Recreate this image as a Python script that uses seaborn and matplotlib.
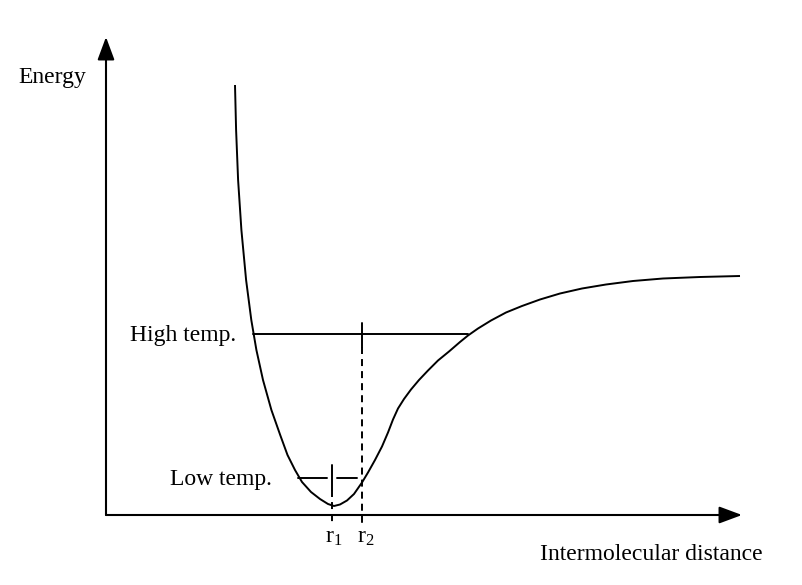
import matplotlib
matplotlib.use("Agg")
import matplotlib.pyplot as plt
import seaborn as sns
import pandas as pd

# Potential-energy curve (x: distance, y: energy, arbitrary units)
curve_x = [129, 130.1, 132.1, 135.4, 140.1, 145.3, 150.4, 157, 165.4, 174.2,
           181.5, 189, 196, 205, 214, 222, 228,
           234, 241, 248, 256, 262, 269, 276, 282, 287, 292,
           298, 305, 313, 322, 332, 343, 354, 362, 372, 385,
           400, 416, 434, 454, 476, 500, 527, 557, 594, 634]
curve_y = [430, 385, 335, 285, 235, 195, 165, 135, 105, 80,
           60, 45, 33, 23, 16, 11, 9,
           10.5, 14.5, 21, 32.5, 42.5, 55, 68.5, 82.5, 95.5, 106.5,
           116, 125.5, 135, 144.5, 154.5, 163.5, 173, 179.5, 186.5, 194.5,
           202.5, 209, 215.5, 221.5, 226.5, 230.5, 234, 236.5, 238, 239]

# Temperature levels
high_level = 181
high_x = [147, 362]
low_level = 37
low_x_left = [192, 221]
low_x_right = [231, 251]

# Mean distances
r1 = 226
r2 = 256
r_labels = ["r$_{\\mathrm{1}}$", "r$_{\\mathrm{2}}$"]

axis_x_end = 636
axis_y_end = 478
x_label = "Intermolecular distance"
y_label = "Energy"
high_label = "High temp."
low_label = "Low temp."

sns.set_style("white")
plt.rcParams["font.family"] = ["Liberation Serif", "DejaVu Serif"]
plt.rcParams["text.color"] = "black"
plt.rcParams["mathtext.fontset"] = "custom"
plt.rcParams["mathtext.rm"] = "Liberation Serif"
plt.rcParams["mathtext.it"] = "Liberation Serif:italic"

fig = plt.figure(figsize=(8.02, 5.85), dpi=100)
ax = fig.add_axes([0, 0, 1, 1])
ax.set_xlim(-106, 696)
ax.set_ylim(-70, 515)
ax.axis("off")

lw = 1.4
df = pd.DataFrame({"x": curve_x, "y": curve_y})
sns.lineplot(data=df, x="x", y="y", sort=False, color="black", lw=lw, ax=ax,
             solid_joinstyle="round", solid_capstyle="butt")

# axes with arrows
arrow = dict(arrowstyle="-|>,head_length=0.7,head_width=0.26", color="black",
             lw=1.5, mutation_scale=20, shrinkA=0, shrinkB=0)
ax.annotate("", xy=(axis_x_end, 0), xytext=(0, 0), arrowprops=arrow)
ax.annotate("", xy=(0, axis_y_end), xytext=(0, 0), arrowprops=arrow)

# temperature lines
ax.plot(high_x, [high_level, high_level], color="black", lw=lw)
ax.plot(low_x_left, [low_level, low_level], color="black", lw=lw)
ax.plot(low_x_right, [low_level, low_level], color="black", lw=lw)

# r1 / r2 markers
ax.plot([r1, r1], [50, 25], color="black", lw=lw)
ax.plot([r1, r1], [25, -10], color="black", lw=1.4, dashes=(3.6, 2.6))
ax.plot([r2, r2], [192, 168], color="black", lw=lw)
ax.plot([r2, r2], [168, -10], color="black", lw=1.4, dashes=(3.6, 2.6))

fs = 17
ax.text(-88, 432, y_label, fontsize=fs, ha="left", va="baseline")
ax.text(434, -45, x_label, fontsize=fs, ha="left", va="baseline")
ax.text(130, high_level - 7, high_label, fontsize=fs, ha="right", va="baseline")
ax.text(166, low_level - 7, low_label, fontsize=fs, ha="right", va="baseline")
ax.text(r1 + 2, -28, r_labels[0], fontsize=fs, ha="center", va="baseline")
ax.text(r2 + 4, -28, r_labels[1], fontsize=fs, ha="center", va="baseline")

fig.savefig("out.png", dpi=100)
